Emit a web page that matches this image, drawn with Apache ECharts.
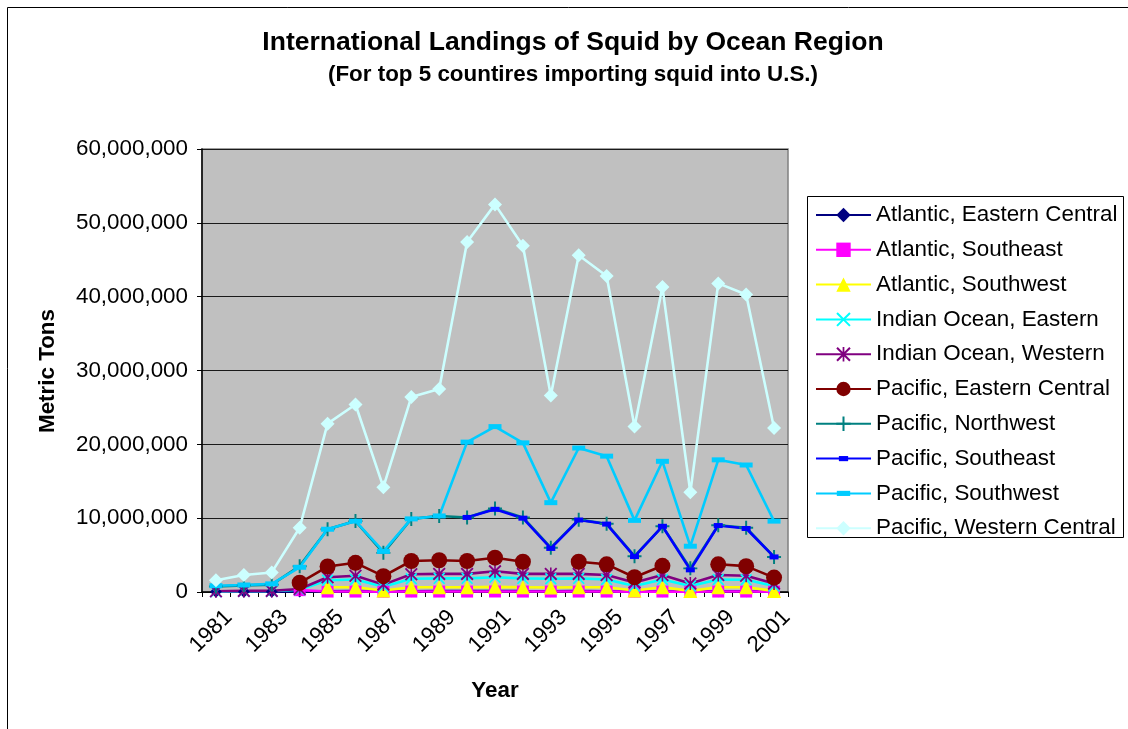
<!DOCTYPE html>
<html>
<head>
<meta charset="utf-8">
<title>International Landings of Squid by Ocean Region</title>
<script src="https://cdn.jsdelivr.net/npm/echarts@6/dist/echarts.min.js"></script>
<style>
  html, body { margin: 0; padding: 0; background: #ffffff; }
  #chart { width: 1128px; height: 729px; }
</style>
</head>
<body>
<div id="chart"></div>
<script>
// Landings in metric tons, 1981-2001
const years = ['1981','1982','1983','1984','1985','1986','1987','1988','1989','1990','1991',
               '1992','1993','1994','1995','1996','1997','1998','1999','2000','2001'];

const atlanticEasternCentral = [30000, 40000, 50000, 80000, 100000, 120000, 90000, 110000, 120000, 130000, 140000,
                                120000, 110000, 120000, 110000, 90000, 110000, 80000, 110000, 100000, 80000];
const atlanticSoutheast = [null, null, null, 250000, 60000, 60000, 50000, 60000, 60000, 60000, 70000,
                           60000, 60000, 60000, 60000, 50000, 60000, 50000, 60000, 60000, 50000];
const atlanticSouthwest = [null, null, null, null, 650000, 650000, 200000, 650000, 650000, 650000, 700000,
                           650000, 600000, 650000, 650000, 200000, 650000, 150000, 650000, 650000, 150000];
const indianOceanEastern = [50000, 100000, 100000, 300000, 1600000, 1700000, 700000, 1800000, 1850000, 1850000, 2000000,
                            1850000, 1800000, 1850000, 1700000, 800000, 1700000, 800000, 1700000, 1650000, 800000];
const indianOceanWestern = [100000, 150000, 150000, 400000, 2000000, 2200000, 1000000, 2400000, 2450000, 2450000, 2800000,
                            2450000, 2450000, 2450000, 2300000, 1300000, 2300000, 1150000, 2300000, 2200000, 1150000];
const pacificEasternCentral = [null, null, null, 1250000, 3450000, 3950000, 2150000, 4200000, 4300000, 4200000, 4650000,
                               4100000, null, 4100000, 3750000, 2000000, 3550000, null, 3750000, 3500000, 1950000];
const pacificNorthwest = [750000, 900000, 1000000, 3500000, 8500000, 9600000, 5300000, 9900000, 10300000, 10100000, 11300000,
                          10100000, 6000000, 9800000, 9250000, 4850000, 8900000, 3200000, 9050000, 8700000, 4750000];
const pacificSoutheast = [null, null, null, null, null, null, null, null, null, 10100000, 11200000,
                          10000000, 5900000, 9750000, 9200000, 4800000, 8900000, 3000000, 9000000, 8600000, 4750000];
const pacificSouthwest = [850000, 950000, 1100000, 3350000, 8500000, 9600000, 5500000, 9900000, 10300000, 20300000, 22400000,
                          20200000, 12100000, 19500000, 18400000, 9700000, 17700000, 6200000, 17900000, 17200000, 9600000];
const pacificWesternCentral = [1600000, 2300000, 2650000, 8700000, 22800000, 25400000, 14200000, 26400000, 27500000, 47400000, 52500000,
                               46900000, 26600000, 45600000, 42800000, 22400000, 41300000, 13500000, 41800000, 40300000, 22200000];

const yTicks = { min: 0, max: 60000000, interval: 10000000 };

const FONT = "'Liberation Sans', Arial, sans-serif";

// Marker outlines (filled paths)
const crossPath = 'path://M0,1 L1,0 L5,4 L9,0 L10,1 L6,5 L10,9 L9,10 L5,6 L1,10 L0,9 L4,5 Z';
const starPath = 'path://M0,1 L1,0 L10,9 L9,10 Z M9,0 L10,1 L1,10 L0,9 Z M4.4,0 L5.6,0 L5.6,10 L4.4,10 Z';
const plusPath = 'path://M4.3,0 L5.7,0 L5.7,4.3 L10,4.3 L10,5.7 L5.7,5.7 L5.7,10 L4.3,10 L4.3,5.7 L0,5.7 L0,4.3 L4.3,4.3 Z';
const shortBarPath = 'path://M0,0 M14,14 M2.5,4.5 L11.5,4.5 L11.5,9.5 L2.5,9.5 Z';
const longBarPath = 'path://M0,0 M14,14 M0.5,4.5 L13.5,4.5 L13.5,9.5 L0.5,9.5 Z';

function lineSeries(name, data, color, symbol, size) {
  return {
    name: name,
    type: 'line',
    data: data,
    symbol: symbol,
    symbolSize: size,
    showAllSymbol: true,
    lineStyle: { color: color, width: 2.6 },
    itemStyle: { color: color, borderWidth: 0 },
    emphasis: { disabled: true },
    connectNulls: false
  };
}

const series = [
  lineSeries('Atlantic, Eastern Central', atlanticEasternCentral, '#000080', 'diamond', 12),
  lineSeries('Atlantic, Southeast', atlanticSoutheast, '#FF00FF', 'rect', 12),
  lineSeries('Atlantic, Southwest', atlanticSouthwest, '#FFFF00', 'triangle', 14),
  lineSeries('Indian Ocean, Eastern', indianOceanEastern, '#00FFFF', crossPath, 12),
  lineSeries('Indian Ocean, Western', indianOceanWestern, '#800080', starPath, 13),
  lineSeries('Pacific, Eastern Central', pacificEasternCentral, '#800000', 'circle', 16),
  lineSeries('Pacific, Northwest', pacificNorthwest, '#008080', plusPath, 14),
  lineSeries('Pacific, Southeast', pacificSoutheast, '#0000FF', shortBarPath, 14),
  lineSeries('Pacific, Southwest', pacificSouthwest, '#00CCFF', longBarPath, 14),
  lineSeries('Pacific, Western Central', pacificWesternCentral, '#CCFFFF', 'diamond', 14)
];

function withCommas(v) {
  return String(v).replace(/\B(?=(\d{3})+(?!\d))/g, ',');
}

const chart = echarts.init(document.getElementById('chart'), null, { renderer: 'canvas' });

chart.setOption({
  animation: false,
  backgroundColor: '#ffffff',
  textStyle: { fontFamily: FONT },
  grid: {
    left: 202, top: 149, width: 586, height: 443,
    show: true,
    backgroundColor: '#C0C0C0',
    borderColor: '#808080',
    borderWidth: 1.5
  },
  xAxis: {
    type: 'category',
    data: years,
    boundaryGap: true,
    axisLine: { lineStyle: { color: '#000000', width: 1.5 } },
    axisTick: { show: true, interval: 0, length: 5, lineStyle: { color: '#000000', width: 1 } },
    axisLabel: {
      interval: 1, rotate: 45, margin: 9,
      align: 'right', verticalAlign: 'top', lineHeight: 36,
      fontSize: 22.4, fontFamily: FONT, color: '#000000'
    },
    splitLine: { show: false }
  },
  yAxis: {
    type: 'value',
    min: yTicks.min, max: yTicks.max, interval: yTicks.interval,
    axisLine: { show: true, lineStyle: { color: '#000000', width: 1.5 } },
    axisTick: { show: true, length: 5, lineStyle: { color: '#000000', width: 1 } },
    axisLabel: {
      margin: 14, fontSize: 22.4, fontFamily: FONT, color: '#000000',
      formatter: withCommas
    },
    splitLine: { show: true, lineStyle: { color: '#1a1a1a', width: 1 } }
  },
  legend: {
    orient: 'vertical',
    left: 815, top: 204,
    padding: 0,
    itemWidth: 55, itemHeight: 18, itemGap: 12.8,
    selectedMode: false,
    z: 10,
    textStyle: { fontSize: 22.4, fontFamily: FONT, color: '#000000', lineHeight: 22 },
    data: series.map(s => s.name)
  },
  graphic: [
    {
      type: 'rect', z: 0, silent: true,
      shape: { x: 7.5, y: 7.5, width: 1200, height: 800 },
      style: { fill: null, stroke: '#000000', lineWidth: 1 }
    },
    {
      type: 'rect', z: 1, silent: true,
      shape: { x: 807.5, y: 196.5, width: 316, height: 341 },
      style: { fill: '#ffffff', stroke: '#000000', lineWidth: 1 }
    },
    {
      type: 'text', z: 5, silent: true, x: 573, y: 43,
      style: {
        text: 'International Landings of Squid by Ocean Region',
        font: "bold 26.5px " + FONT, fill: '#000000',
        textAlign: 'center', textVerticalAlign: 'middle'
      }
    },
    {
      type: 'text', z: 5, silent: true, x: 573, y: 75,
      style: {
        text: '(For top 5 countires importing squid into U.S.)',
        font: "bold 22.4px " + FONT, fill: '#000000',
        textAlign: 'center', textVerticalAlign: 'middle'
      }
    },
    {
      type: 'text', z: 5, silent: true, x: 48, y: 371, rotation: Math.PI / 2,
      style: {
        text: 'Metric Tons',
        font: "bold 22.4px " + FONT, fill: '#000000',
        textAlign: 'center', textVerticalAlign: 'middle'
      }
    },
    {
      type: 'text', z: 5, silent: true, x: 495, y: 691,
      style: {
        text: 'Year',
        font: "bold 22.4px " + FONT, fill: '#000000',
        textAlign: 'center', textVerticalAlign: 'middle'
      }
    }
  ],
  series: series
});
</script>
</body>
</html>
